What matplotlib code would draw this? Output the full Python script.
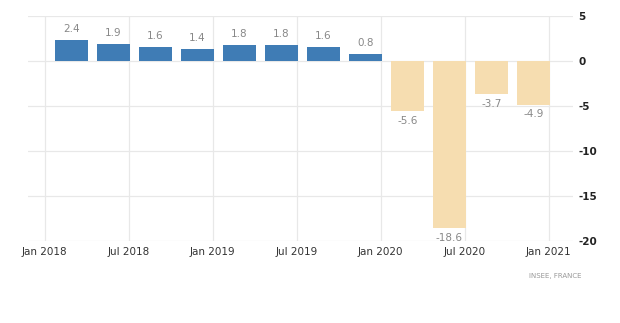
import matplotlib.pyplot as plt

# ---------- data ----------
quarters = ["Q1 2018", "Q2 2018", "Q3 2018", "Q4 2018",
            "Q1 2019", "Q2 2019", "Q3 2019", "Q4 2019",
            "Q1 2020", "Q2 2020", "Q3 2020", "Q4 2020"]
values = [2.4, 1.9, 1.6, 1.4, 1.8, 1.8, 1.6, 0.8, -5.6, -18.6, -3.7, -4.9]
tick_labels = ["Jan 2018", "Jul 2018", "Jan 2019", "Jul 2019",
               "Jan 2020", "Jul 2020", "Jan 2021"]
y_ticks = [-20, -15, -10, -5, 0, 5]

POS_COLOR = "#3f7cb5"
NEG_COLOR = "#f6ddb0"
GRID = "#e8e8e8"

fig = plt.figure(figsize=(6.2, 3.23), dpi=100)
ax = fig.add_axes([0.045, 0.254, 0.879, 0.696])

x = list(range(len(values)))
colors = [POS_COLOR if v >= 0 else NEG_COLOR for v in values]
ax.bar(x, values, width=0.79, color=colors, zorder=2)

# value labels
for xi, v in zip(x, values):
    if v >= 0:
        ax.annotate(f"{v:.1f}", (xi, v), xytext=(0, 4), textcoords="offset points",
                    ha="center", va="bottom", fontsize=7.5, color="#888888")
    else:
        ax.annotate(f"{v:.1f}", (xi, v), xytext=(0, -3), textcoords="offset points",
                    ha="center", va="top", fontsize=7.5, color="#888888")

# axes ticks: half-year ticks, offset from bar centres
tick_pos = [2 * k - 0.64 for k in range(len(tick_labels))]
ax.set_xticks(tick_pos)
ax.set_xticklabels(tick_labels, fontsize=7.5, color="#333333")
ax.set_xlim(-1.04, 11.94)

ax.set_ylim(-20, 5)
ax.set_yticks(y_ticks)
ax.yaxis.tick_right()
ax.set_yticklabels([str(t) for t in y_ticks], fontsize=7.5, color="#222222",
                   fontweight="bold")

ax.tick_params(axis="both", length=0)
ax.tick_params(axis="x", pad=4)
ax.tick_params(axis="y", pad=4)

ax.grid(True, color=GRID, linewidth=0.9, zorder=0)
for s in ax.spines.values():
    s.set_visible(False)

fig.text(0.938, 0.147, "INSEE, FRANCE", fontsize=5, color="#999999",
         ha="right", va="center")

fig.savefig("out.png", dpi=100)
